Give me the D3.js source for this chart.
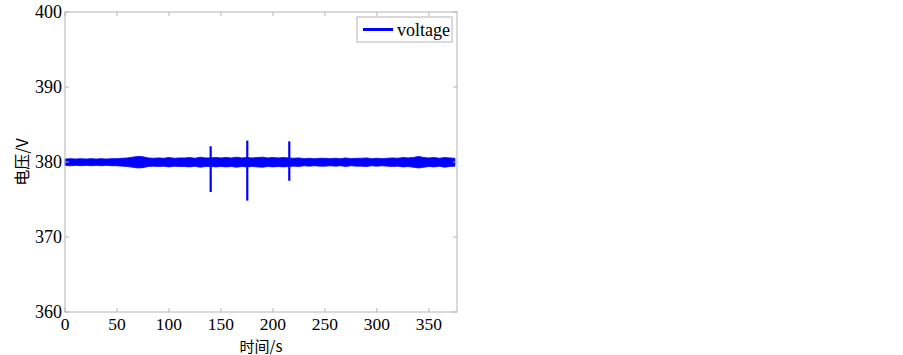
<!DOCTYPE html>
<html lang="zh">
<head>
    <meta charset="UTF-8">
    <title>电压</title>
    <script src="https://d3js.org/d3.v7.min.js"></script>
    <style>
        body { margin: 0; background: #fff; }
    </style>
</head>
<body>
    <div id="chart"></div>
    <script>
        const times = d3.range(0, 380, 5);
        const upper = [380.4, 380.45, 380.4, 380.45, 380.4, 380.45, 380.4, 380.45, 380.4, 380.45,
                       380.45, 380.5, 380.55, 380.65, 380.75, 380.7, 380.55, 380.5, 380.55, 380.5,
                       380.6, 380.5, 380.55, 380.55, 380.6, 380.5, 380.65, 380.55, 380.55, 380.6,
                       380.55, 380.6, 380.55, 380.65, 380.55, 380.6, 380.55, 380.6, 380.65, 380.55,
                       380.6, 380.55, 380.6, 380.55, 380.5, 380.55, 380.45, 380.5, 380.45, 380.5,
                       380.5, 380.45, 380.5, 380.45, 380.55, 380.45, 380.5, 380.5, 380.55, 380.45,
                       380.5, 380.45, 380.5, 380.55, 380.5, 380.6, 380.55, 380.6, 380.75, 380.6,
                       380.55, 380.6, 380.5, 380.6, 380.55, 380.5];
        const lower = [379.55, 379.5, 379.55, 379.5, 379.55, 379.5, 379.55, 379.5, 379.55, 379.5,
                       379.5, 379.45, 379.4, 379.3, 379.2, 379.25, 379.4, 379.45, 379.4, 379.45,
                       379.35, 379.45, 379.4, 379.4, 379.35, 379.45, 379.3, 379.4, 379.4, 379.35,
                       379.4, 379.35, 379.4, 379.3, 379.4, 379.35, 379.4, 379.35, 379.3, 379.4,
                       379.35, 379.4, 379.35, 379.4, 379.45, 379.4, 379.5, 379.45, 379.5, 379.45,
                       379.45, 379.5, 379.45, 379.5, 379.4, 379.5, 379.45, 379.45, 379.4, 379.5,
                       379.45, 379.5, 379.45, 379.4, 379.45, 379.35, 379.4, 379.3, 379.2, 379.3,
                       379.4, 379.35, 379.45, 379.3, 379.4, 379.45];

        // transient spikes
        const spikeTimes = [140.1, 175.3, 215.7];
        const spikeMax = [382.1, 382.85, 382.75];
        const spikeMin = [376.0, 374.85, 377.5];

        const xTicks = [0, 50, 100, 150, 200, 250, 300, 350];
        const yTicks = [360, 370, 380, 390, 400];

        const W = 903, H = 355;
        const margin = { top: 12, right: 446, bottom: 43, left: 65 };
        const width = W - margin.left - margin.right,
              height = H - margin.top - margin.bottom;

        const serif = "'Liberation Serif', 'Times New Roman', 'DejaVu Serif', serif";
        const cjk = "'Noto Sans CJK SC', 'Liberation Serif', serif";

        const svg = d3.select("#chart").append("svg")
            .attr("width", W).attr("height", H);
        const g = svg.append("g")
            .attr("transform", `translate(${margin.left},${margin.top})`);

        const x = d3.scaleLinear().domain([0, 377]).range([0, width]);
        const y = d3.scaleLinear().domain([360, 400]).range([height, 0]);

        const blue = "#0000ff", axisColor = "#b4b4b4";

        // data band
        const band = times.map((t, i) => ({ t, hi: upper[i], lo: lower[i] }));
        g.append("path")
            .datum(band)
            .attr("fill", blue)
            .attr("stroke", blue)
            .attr("stroke-width", 0.8)
            .attr("d", d3.area().x(d => x(d.t)).y0(d => y(d.lo)).y1(d => y(d.hi)));

        g.selectAll("line.spike")
            .data(spikeTimes)
            .enter().append("line")
            .attr("class", "spike")
            .attr("x1", d => x(d)).attr("x2", d => x(d))
            .attr("y1", (d, i) => y(spikeMax[i]))
            .attr("y2", (d, i) => y(spikeMin[i]))
            .attr("stroke", blue)
            .attr("stroke-width", 2.2);

        // box
        g.append("rect")
            .attr("width", width).attr("height", height)
            .attr("fill", "none").attr("stroke", axisColor);

        // inward ticks on all sides
        const tl = 4;
        xTicks.forEach(t => {
            g.append("line").attr("x1", x(t)).attr("x2", x(t)).attr("y1", height).attr("y2", height - tl).attr("stroke", axisColor);
            g.append("line").attr("x1", x(t)).attr("x2", x(t)).attr("y1", 0).attr("y2", tl).attr("stroke", axisColor);
            g.append("text")
                .attr("font-family", serif).attr("font-size", 17.5)
                .attr("x", x(t)).attr("y", height + 18)
                .attr("text-anchor", "middle").text(t);
        });
        yTicks.forEach(t => {
            g.append("line").attr("x1", 0).attr("x2", tl).attr("y1", y(t)).attr("y2", y(t)).attr("stroke", axisColor);
            g.append("line").attr("x1", width).attr("x2", width - tl).attr("y1", y(t)).attr("y2", y(t)).attr("stroke", axisColor);
            g.append("text")
                .attr("font-family", serif).attr("font-size", 18)
                .attr("x", -3).attr("y", y(t) + 6)
                .attr("text-anchor", "end").text(t);
        });

        // axis titles
        g.append("text")
            .attr("font-family", cjk).attr("font-size", 15)
            .attr("x", width / 2).attr("y", height + 39.5)
            .attr("text-anchor", "middle").text("时间/s");
        g.append("text")
            .attr("font-family", cjk).attr("font-size", 16)
            .attr("transform", `translate(${-37},${height / 2}) rotate(-90)`)
            .attr("text-anchor", "middle").text("电压/V");

        // legend
        const legend = g.append("g").attr("transform", `translate(${width - 100},5)`);
        legend.append("rect")
            .attr("width", 95).attr("height", 25)
            .attr("fill", "#fff").attr("stroke", axisColor);
        legend.append("line")
            .attr("x1", 6).attr("x2", 36).attr("y1", 12.5).attr("y2", 12.5)
            .attr("stroke", blue).attr("stroke-width", 3);
        legend.append("text")
            .attr("font-family", serif).attr("font-size", 18)
            .attr("x", 40).attr("y", 18.5).text("voltage");
    </script>
</body>
</html>
